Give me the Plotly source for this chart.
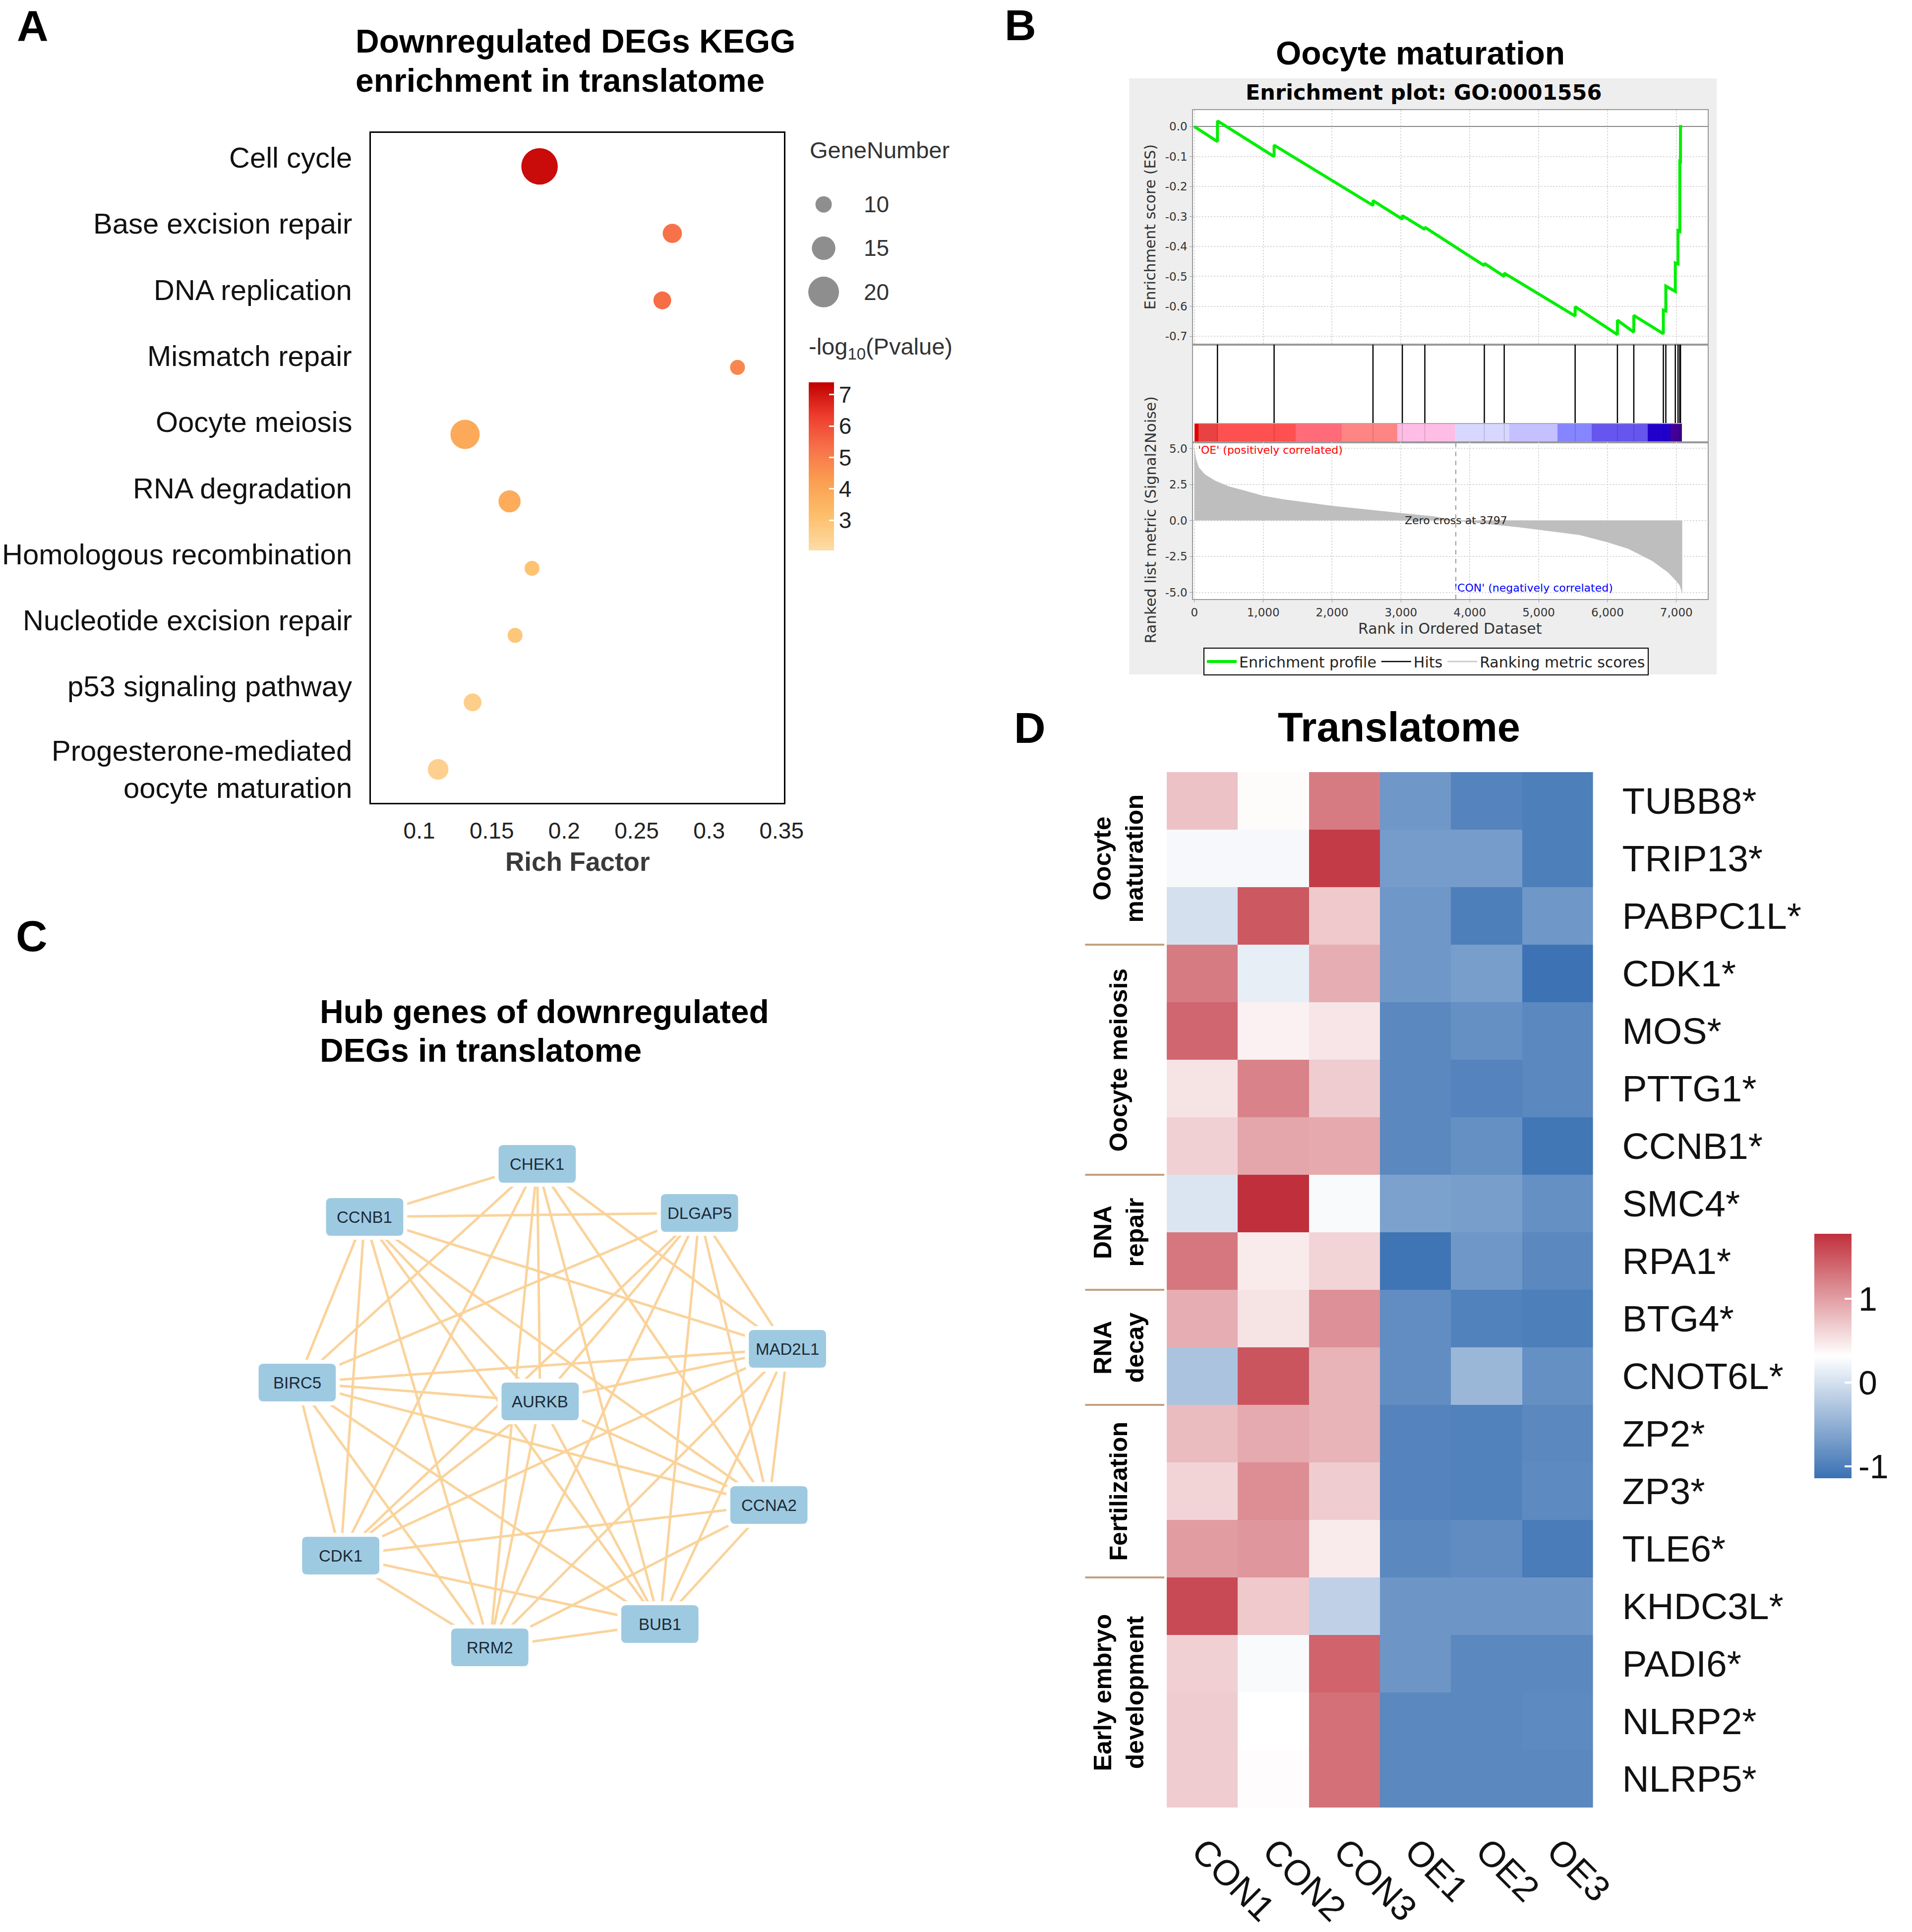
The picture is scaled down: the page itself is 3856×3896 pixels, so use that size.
import plotly.graph_objects as go
from itertools import combinations

W, H = 3856, 3896
def px(x): return x / W
def py(y): return 1 - y / H

FONT = "Liberation Sans, Arial, sans-serif"
JFONT = "DejaVu Sans, sans-serif"

# ---------------- Panel A data ----------------
kegg_terms = ["Cell cycle", "Base excision repair", "DNA replication", "Mismatch repair",
              "Oocyte meiosis", "RNA degradation", "Homologous recombination",
              "Nucleotide excision repair", "p53 signaling pathway",
              "Progesterone-mediated<br>oocyte maturation"]
rich_factor = [0.183, 0.2746, 0.2677, 0.3196, 0.1316, 0.1623, 0.1778, 0.1661, 0.1368, 0.113]
gene_number = [24, 12, 11, 9, 19, 14, 9, 9, 11, 13]
neg_log10_p = [7.2, 5.3, 5.4, 4.8, 3.9, 3.8, 3.0, 2.9, 2.6, 2.5]
size_legend_values = [10, 15, 20]
pval_ticks = [3, 4, 5, 6, 7]
rich_ticks = [0.1, 0.15, 0.2, 0.25, 0.3, 0.35]
rich_ticktext = ["0.1", "0.15", "0.2", "0.25", "0.3", "0.35"]

# ---------------- Panel B data (GSEA) ----------------
es_rank = [0, 335, 335, 1158, 1158, 2594, 2594, 3020, 3020, 3347, 3347, 4211, 4211, 4500, 4500,
           5530, 5530, 6144, 6144, 6382, 6382, 6811, 6811, 6847, 6847, 6985, 6985, 7024, 7024,
           7050, 7050, 7060, 7060, 7085]
es_value = [0.0, -0.050, 0.019, -0.100, -0.062, -0.263, -0.247, -0.309, -0.297, -0.343, -0.336,
            -0.464, -0.456, -0.500, -0.489, -0.632, -0.601, -0.694, -0.646, -0.686, -0.630,
            -0.691, -0.612, -0.615, -0.532, -0.550, -0.455, -0.458, -0.347, -0.350, -0.116,
            -0.117, 0.0, 0.0]
hit_ranks = [335, 1158, 2594, 3020, 3347, 4211, 4500, 5530, 6144, 6382, 6811, 6847, 6985, 7024, 7050, 7060]
metric_rank = [0, 20, 60, 150, 300, 500, 700, 1000, 1300, 1600, 2000, 2500, 3000, 3500, 3797,
               4200, 4700, 5200, 5600, 6000, 6300, 6650, 6880, 7000, 7050, 7085]
metric_value = [4.95, 4.3, 3.7, 3.2, 2.75, 2.35, 2.1, 1.7, 1.45, 1.25, 1.0, 0.75, 0.5, 0.25, 0.0,
                -0.2, -0.45, -0.75, -1.0, -1.5, -1.95, -2.8, -3.6, -4.2, -4.5, -5.0]
band_edges = [0, 59, 344, 1470, 2146, 2947, 3782, 4573, 5273, 5774, 6585, 6915, 7085]
band_colors = ["#E00000", "#E84242", "#FF5050", "#FF6B78", "#FF8585", "#FFBDE5",
               "#D7D7FF", "#C5C0FF", "#8585FF", "#6655EE", "#2200CC", "#440099"]
zero_cross = 3797
rank_ticks = [0, 1000, 2000, 3000, 4000, 5000, 6000, 7000]
rank_ticktext = ["0", "1,000", "2,000", "3,000", "4,000", "5,000", "6,000", "7,000"]
es_ticks = [0.0, -0.1, -0.2, -0.3, -0.4, -0.5, -0.6, -0.7]
es_ticktext = ["0.0", "-0.1", "-0.2", "-0.3", "-0.4", "-0.5", "-0.6", "-0.7"]
metric_ticks = [5.0, 2.5, 0.0, -2.5, -5.0]
metric_ticktext = ["5.0", "2.5", "0.0", "-2.5", "-5.0"]

# ---------------- Panel C data (network) ----------------
node_names = ["CHEK1", "CCNB1", "DLGAP5", "MAD2L1", "BIRC5", "AURKB", "CCNA2", "CDK1", "BUB1", "RRM2"]
node_x = [5.94, 2.41, 9.26, 11.06, 1.03, 6.00, 10.68, 1.92, 8.45, 4.97]
node_y = [10.73, 9.66, 9.74, 7.00, 6.32, 5.94, 3.85, 2.83, 1.45, 0.98]
missing_edges = [("CHEK1", "DLGAP5")]
edges = [e for e in combinations(node_names, 2) if e not in missing_edges]

# ---------------- Panel D data (heatmap) ----------------
samples = ["CON1", "CON2", "CON3", "OE1", "OE2", "OE3"]
genes = ["TUBB8*", "TRIP13*", "PABPC1L*", "CDK1*", "MOS*", "PTTG1*", "CCNB1*", "SMC4*", "RPA1*",
         "BTG4*", "CNOT6L*", "ZP2*", "ZP3*", "TLE6*", "KHDC3L*", "PADI6*", "NLRP2*", "NLRP5*"]
zscores = [
    [0.75, 0.35, 1.25, -0.75, -0.95, -1.00],
    [0.25, 0.25, 1.70, -0.70, -0.70, -1.00],
    [0.00, 1.50, 0.70, -0.75, -1.00, -0.75],
    [1.25, 0.15, 0.90, -0.75, -0.68, -1.12],
    [1.40, 0.42, 0.50, -0.90, -0.82, -0.90],
    [0.52, 1.20, 0.68, -0.90, -0.95, -0.90],
    [0.65, 0.95, 0.93, -0.90, -0.82, -1.08],
    [0.05, 1.78, 0.27, -0.65, -0.68, -0.82],
    [1.28, 0.47, 0.63, -1.10, -0.75, -0.90],
    [0.90, 0.52, 1.10, -0.85, -0.97, -1.00],
    [-0.30, 1.52, 0.85, -0.85, -0.42, -0.82],
    [0.80, 0.92, 0.85, -0.95, -0.97, -0.90],
    [0.62, 1.12, 0.68, -0.95, -0.97, -0.88],
    [1.02, 1.06, 0.47, -0.90, -0.86, -1.03],
    [1.60, 0.70, -0.15, -0.76, -0.76, -0.76],
    [0.65, 0.27, 1.42, -0.76, -0.90, -0.90],
    [0.68, 0.32, 1.33, -0.90, -0.90, -0.88],
    [0.68, 0.34, 1.33, -0.90, -0.90, -0.90],
]
group_names = ["Oocyte<br>maturation", "Oocyte meiosis", "DNA<br>repair", "RNA<br>decay",
               "Fertilization", "Early embryo<br>development"]
group_sizes = [3, 4, 2, 2, 3, 4]
heat_ticks = [-1, 0, 1]
heat_ticktext = ["-1", "0", "1"]

# ======================================================
fig = go.Figure()

def dot_size(n):
    return 33 + 2.9 * (n - 10)

pcolors = [[0, "#FDDCA8"], [0.2, "#FDC06C"], [0.4, "#FBA052"], [0.6, "#F7744A"],
           [0.8, "#EE3D2F"], [1, "#C00000"]]

# Panel A dots
fig.add_trace(go.Scatter(
    x=rich_factor, y=kegg_terms, mode="markers", xaxis="x", yaxis="y", showlegend=False,
    marker=dict(size=[dot_size(n) for n in gene_number], color=neg_log10_p, colorscale=pcolors,
                cmin=2.05, cmax=7.4, line=dict(width=0), opacity=1,
                colorbar=dict(x=px(1650), xanchor="left", y=py(940), yanchor="middle",
                              len=339, lenmode="pixels", thickness=51, thicknessmode="pixels",
                              tickvals=pval_ticks, ticktext=[str(t) for t in pval_ticks],
                              ticks="inside", tickcolor="white", ticklen=10, tickwidth=3,
                              outlinewidth=0, tickfont=dict(size=46, color="#222", family=FONT),
                              xpad=0, ypad=0))))

# Panel A size legend
fig.add_trace(go.Scatter(
    x=[0.5] * len(size_legend_values), y=size_legend_values, mode="markers", xaxis="x6", yaxis="y6",
    showlegend=False, marker=dict(size=[dot_size(n) for n in size_legend_values], color="#5E5E5E",
                                  line=dict(width=0))))

# Panel B: GSEA
fig.add_trace(go.Scatter(x=es_rank, y=es_value, mode="lines", xaxis="x2", yaxis="y2",
                         name="Enrichment profile", line=dict(color="#00EE00", width=6),
                         showlegend=True))
hx, hy = [], []
for r in hit_ranks:
    hx += [r, r, None]
    hy += [0.193, 1, None]
fig.add_trace(go.Scatter(x=hx, y=hy, mode="lines", xaxis="x3", yaxis="y3", name="Hits",
                         line=dict(color="black", width=2.5), showlegend=True))
band_centers = [(band_edges[i] + band_edges[i + 1]) / 2 for i in range(len(band_colors))]
band_widths = [band_edges[i + 1] - band_edges[i] for i in range(len(band_colors))]
fig.add_trace(go.Bar(x=band_centers, y=[0.193] * len(band_colors), width=band_widths, base=0,
                     marker=dict(color=band_colors, line=dict(width=0)), xaxis="x3", yaxis="y3",
                     showlegend=False))
bx, by = [], []
for r in hit_ranks:
    bx += [r, r, None]
    by += [0, 0.193, None]
fig.add_trace(go.Scatter(x=bx, y=by, mode="lines", xaxis="x3", yaxis="y3", showlegend=False,
                         line=dict(color="rgba(0,0,0,0.18)", width=1.5)))
fig.add_trace(go.Scatter(x=[band_edges[0], band_edges[-1]], y=[0.193, 0.193], mode="lines",
                         xaxis="x3", yaxis="y3", line=dict(color="#AAAAAA", width=2), showlegend=False))
fig.add_trace(go.Scatter(x=metric_rank, y=metric_value, mode="lines", fill="tozeroy",
                         fillcolor="#BEBEBE", line=dict(color="#BEBEBE", width=1),
                         xaxis="x4", yaxis="y4", showlegend=False))
fig.add_trace(go.Scatter(x=[None], y=[None], mode="lines", name="Ranking metric scores",
                         line=dict(color="#CCCCCC", width=3), xaxis="x4", yaxis="y4", showlegend=True))
fig.add_trace(go.Scatter(x=[zero_cross, zero_cross], y=[-5.46, 5.43], mode="lines",
                         line=dict(color="#999999", width=2, dash="dash"), xaxis="x4", yaxis="y4",
                         showlegend=False))

# Panel C: network edges
pos = {n: (x, y) for n, x, y in zip(node_names, node_x, node_y)}
ex, ey = [], []
for a, b in edges:
    ex += [pos[a][0], pos[b][0], None]
    ey += [pos[a][1], pos[b][1], None]
fig.add_trace(go.Scatter(x=ex, y=ey, mode="lines", xaxis="x7", yaxis="y7", showlegend=False,
                         line=dict(color="#FAD39B", width=5)))

# Panel D heatmap
hcs = [[0, "#3A71B3"], [0.5, "#FFFFFF"], [1, "#C0303C"]]
fig.add_trace(go.Heatmap(
    z=zscores, x=samples, y=genes, xaxis="x5", yaxis="y5", colorscale=hcs, zmin=-1.14, zmax=1.78,
    colorbar=dict(x=px(3707), xanchor="left", y=py(2734), yanchor="middle", len=493,
                  lenmode="pixels", thickness=75, thicknessmode="pixels", tickvals=heat_ticks,
                  ticktext=heat_ticktext, ticks="inside", tickcolor="white", ticklen=14,
                  tickwidth=4, outlinewidth=0, tickfont=dict(size=68, color="#111", family=FONT),
                  xpad=0, ypad=0)))

ann = []
def A(**k):
    k.setdefault("showarrow", False)
    ann.append(k)

# panel letters
for letter, (lx, ly) in {"A": (62, 52), "B": (2083, 50), "C": (60, 1887), "D": (2102, 1468)}.items():
    A(text=letter, x=px(lx), y=py(ly), xref="paper", yref="paper", xanchor="center",
      yanchor="middle", font=dict(size=88, family=FONT, color="black", weight="bold"))

# Panel A title, category labels & legend text
A(text="Downregulated DEGs KEGG", x=px(720), y=py(83), xref="paper", yref="paper", xanchor="left",
  yanchor="middle", font=dict(size=66, family=FONT, color="black", weight="bold"))
A(text="enrichment in translatome", x=px(720), y=py(162), xref="paper", yref="paper",
  xanchor="left", yanchor="middle", font=dict(size=66, family=FONT, color="black", weight="bold"))
for i, term in enumerate(kegg_terms):
    shift = 0 if "<br>" in term else 18 + 1.8 * i
    A(text=term, x=px(717), y=term, xref="paper", yref="y", xanchor="right", yanchor="middle",
      yshift=shift, align="right", font=dict(size=58, family=FONT, color="#111"))
A(text="Rich Factor", x=px(1177), y=py(1737), xref="paper", yref="paper", xanchor="center",
  yanchor="middle", font=dict(size=53, family=FONT, color="#3A3A3A", weight="bold"))
A(text="GeneNumber", x=px(1650), y=py(302), xref="paper", yref="paper", xanchor="left",
  yanchor="middle", font=dict(size=47, family=FONT, color="#333"))
A(text="-log<sub>10</sub>(Pvalue)", x=px(1648), y=py(702), xref="paper", yref="paper",
  xanchor="left", yanchor="middle", font=dict(size=47, family=FONT, color="#333"))
for v in size_legend_values:
    A(text=str(v), x=1, y=v, xref="x6", yref="y6", xanchor="left", yanchor="middle", xshift=40,
      font=dict(size=46, family=FONT, color="#333"))

# Panel B texts
A(text="Oocyte maturation", x=px(2901), y=py(107), xref="paper", yref="paper", xanchor="center",
  yanchor="middle", font=dict(size=66, family=FONT, color="black", weight="bold"))
A(text="Enrichment plot: GO:0001556", x=px(2907), y=py(186), xref="paper", yref="paper",
  xanchor="center", yanchor="middle", font=dict(size=43, family=JFONT, color="black", weight="bold"))
A(text="Enrichment score (ES)", x=px(2348), y=py(458), xref="paper", yref="paper", textangle=-90,
  xanchor="center", yanchor="middle", font=dict(size=30, family=JFONT, color="#333"))
A(text="Ranked list metric (Signal2Noise)", x=px(2348), y=py(1048), xref="paper", yref="paper",
  textangle=-90, xanchor="center", yanchor="middle", font=dict(size=30, family=JFONT, color="#333"))
A(text="Rank in Ordered Dataset", x=px(2962), y=py(1267), xref="paper", yref="paper",
  xanchor="center", yanchor="middle", font=dict(size=30, family=JFONT, color="#333"))
A(text="'OE' (positively correlated)", x=40, y=4.9, xref="x4", yref="y4", xanchor="left",
  yanchor="middle", font=dict(size=22, family=JFONT, color="#FF0000"))
A(text="Zero cross at " + str(zero_cross), x=zero_cross, y=0.0, xref="x4", yref="y4",
  xanchor="center", yanchor="middle", font=dict(size=22, family=JFONT, color="#222"))
A(text="'CON' (negatively correlated)", x=4927, y=-4.67, xref="x4", yref="y4", xanchor="center",
  yanchor="middle", font=dict(size=22, family=JFONT, color="#0000FF"))

# Panel C texts & node boxes
A(text="Hub genes of downregulated", x=px(647), y=py(2040), xref="paper", yref="paper",
  xanchor="left", yanchor="middle", font=dict(size=66, family=FONT, color="black", weight="bold"))
A(text="DEGs in translatome", x=px(647), y=py(2118), xref="paper", yref="paper", xanchor="left",
  yanchor="middle", font=dict(size=66, family=FONT, color="black", weight="bold"))

def rounded_path(cx, cy, hw, hh, r):
    x0, x1, y0, y1 = cx - hw, cx + hw, cy - hh, cy + hh
    return (f"M{x0 + r},{y0} L{x1 - r},{y0} Q{x1},{y0} {x1},{y0 + r} L{x1},{y1 - r} "
            f"Q{x1},{y1} {x1 - r},{y1} L{x0 + r},{y1} Q{x0},{y1} {x0},{y1 - r} "
            f"L{x0},{y0 + r} Q{x0},{y0} {x0 + r},{y0} Z")

node_shapes = []
for n, x, y in zip(node_names, node_x, node_y):
    node_shapes.append(dict(type="path", xref="x7", yref="y7", path=rounded_path(x, y, 0.87, 0.46, 0.16),
                            fillcolor="white", line=dict(width=0), layer="above"))
    node_shapes.append(dict(type="path", xref="x7", yref="y7", path=rounded_path(x, y, 0.79, 0.38, 0.1),
                            fillcolor="#9ECAE1", line=dict(width=0), layer="above"))
    A(text=n, x=x, y=y, xref="x7", yref="y7", xanchor="center", yanchor="middle",
      font=dict(size=33, family=FONT, color="#1C2A38"))

# Panel D texts
A(text="Translatome", x=px(2857), y=py(1467), xref="paper", yref="paper", xanchor="center",
  yanchor="middle", font=dict(size=83, family=FONT, color="black", weight="bold"))
sep_shapes = []
start = 0
for gname, gsize in zip(group_names, group_sizes):
    center = start + (gsize - 1) / 2
    A(text=gname, x=px(2284), y=center, xref="paper", yref="y5", textangle=-90, xanchor="center",
      yanchor="middle", font=dict(size=50, family=FONT, color="black", weight="bold"))
    if start > 0:
        sep_shapes.append(dict(type="line", xref="paper", yref="y5", x0=px(2215), x1=px(2377),
                               y0=start - 0.5, y1=start - 0.5, line=dict(color="#C4A07E", width=4)))
    start += gsize

# GSEA background
shapes = [dict(type="rect", xref="paper", yref="paper", x0=px(2305), x1=px(3507), y0=py(1360),
               y1=py(158), fillcolor="#EEEEEE", line=dict(width=0), layer="below"),
          dict(type="rect", xref="paper", yref="paper", x0=px(2436), x1=px(3489), y0=py(1208),
               y1=py(222), fillcolor="white", line=dict(width=0), layer="below")] + sep_shapes + node_shapes

ax_off = dict(showgrid=False, zeroline=False, showticklabels=False, ticks="", showline=False)
gsea_line = dict(showline=True, mirror=True, linecolor="#999999", linewidth=2)
gsea_grid = dict(showgrid=True, gridcolor="#D8D8D8", gridwidth=2, griddash="dot")
gx_dom = [px(2436), px(3489)]
grange = [-18, 7457]
gtick = dict(size=23, family=JFONT, color="#333")

fig.update_layout(
    width=W, height=H, margin=dict(l=0, r=0, t=0, b=0), paper_bgcolor="white",
    plot_bgcolor="white", font=dict(family=FONT, color="black"),
    annotations=ann, shapes=shapes, showlegend=True,
    legend=dict(x=px(2457), y=py(1306), xanchor="left", yanchor="top", orientation="h",
                bgcolor="white", bordercolor="black", borderwidth=2,
                font=dict(size=30, family=JFONT, color="#222"), itemwidth=60,
                tracegroupgap=0),
    xaxis=dict(domain=[px(754), px(1599)], range=[0.0667, 0.3517], anchor="y", showgrid=False,
               zeroline=False, showline=True, mirror=True, linecolor="black", linewidth=3,
               tickvals=rich_ticks, ticktext=rich_ticktext, ticks="", ticklabelstandoff=14,
               tickfont=dict(size=46, color="#222", family=FONT)),
    yaxis=dict(domain=[py(1619), py(268)], type="category", categoryorder="array",
               categoryarray=kegg_terms, range=[9.5, -0.5], anchor="x", showgrid=False,
               zeroline=False, showline=True, mirror=True, linecolor="black", linewidth=3,
               ticks="", showticklabels=False),
    xaxis6=dict(domain=[px(1640), px(1720)], range=[0, 1], anchor="y6", **ax_off),
    yaxis6=dict(domain=[py(633), py(368)], range=[22.5, 7.5], anchor="x6", **ax_off),
    xaxis2=dict(domain=gx_dom, range=grange, anchor="y2", zeroline=False, showticklabels=False,
                ticks="", tickvals=rank_ticks, **gsea_grid, **gsea_line),
    yaxis2=dict(domain=[py(695), py(222)], range=[-0.7275, 0.055], anchor="x2", tickvals=es_ticks,
                ticktext=es_ticktext, ticks="outside", ticklen=5, tickcolor="#999",
                tickfont=gtick, zeroline=True,
                zerolinecolor="#888888", zerolinewidth=2, **gsea_grid, **gsea_line),
    xaxis3=dict(domain=gx_dom, range=grange, anchor="y3", showgrid=False, zeroline=False,
                showticklabels=False, ticks="", **gsea_line),
    yaxis3=dict(domain=[py(892), py(695)], range=[0, 1], anchor="x3", showgrid=False,
                zeroline=False, showticklabels=False, ticks="", **gsea_line),
    xaxis4=dict(domain=gx_dom, range=grange, anchor="y4", zeroline=False, tickvals=rank_ticks,
                ticktext=rank_ticktext, ticks="outside", ticklen=5, tickcolor="#999",
                tickfont=gtick, **gsea_grid, **gsea_line),
    yaxis4=dict(domain=[py(1208), py(892)], range=[-5.46, 5.43], anchor="x4", zeroline=False,
                tickvals=metric_ticks, ticktext=metric_ticktext, ticks="outside", ticklen=5,
                tickcolor="#999", tickfont=gtick, **gsea_grid, **gsea_line),
    xaxis7=dict(domain=[px(500), px(1750)], range=[0, 12.5], anchor="y7", **ax_off),
    yaxis7=dict(domain=[py(3420), py(2250)], range=[0, 11.7], anchor="x7", **ax_off),
    xaxis5=dict(domain=[px(2382), px(3254)], anchor="y5", showgrid=False, zeroline=False,
                showline=False, ticks="", tickangle=45, ticklabelstandoff=30,
                tickfont=dict(size=72, family=FONT, color="#111")),
    yaxis5=dict(domain=[py(3645), py(1557)], anchor="x5", side="right", autorange="reversed",
                showgrid=False, zeroline=False, showline=False, ticks="", ticklabelstandoff=58,
                tickfont=dict(size=75, family=FONT, color="#111")),
    bargap=0,
)

fig.write_html("out.html", config={"displayModeBar": False},
               post_script="document.body.style.margin='0px';")
